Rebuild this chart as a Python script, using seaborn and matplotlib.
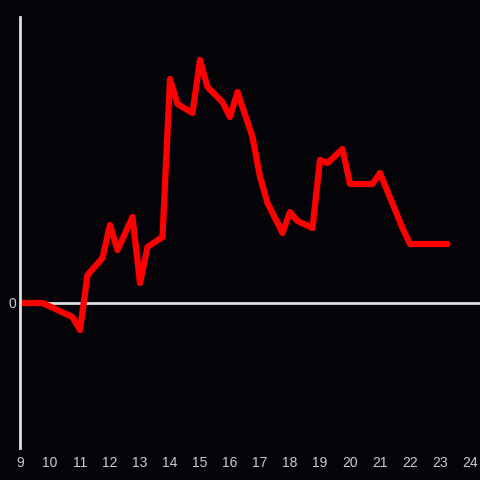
import matplotlib
matplotlib.use("Agg")
import matplotlib.pyplot as plt
import seaborn as sns
import pandas as pd

hours = [9, 9.75, 10.75, 11, 11.25, 11.75, 12, 12.25, 12.75, 13, 13.25, 13.75,
         14, 14.25, 14.75, 15, 15.25, 15.75, 16, 16.25, 16.75, 17, 17.25, 17.75,
         18, 18.25, 18.75, 19, 19.25, 19.75, 20, 20.75, 21, 21.75, 22, 23.25]
values = [0, 0, -14, -27, 28, 45, 78, 53, 86, 20, 56, 66,
          224, 199, 190, 243, 216, 201, 186, 211, 166, 126, 100, 70,
          91, 82, 75, 143, 140, 154, 119, 119, 130, 75, 59, 59]
xticks = list(range(9, 25))

df = pd.DataFrame({"hour": hours, "value": values})

sns.set_style("dark")
plt.rcParams["font.family"] = ["Liberation Sans", "DejaVu Sans"]

bg = "#040307"
fig = plt.figure(figsize=(4.8, 4.8), dpi=100, facecolor=bg)
ax = fig.add_axes([20 / 480, 32 / 480, 460 / 480, 431 / 480])
ax.set_facecolor(bg)

sns.lineplot(data=df, x="hour", y="value", ax=ax, color="#ff0000", linewidth=4.5)
ax.axhline(0, color="#e0e0e0", linewidth=2, zorder=1)

ax.set_xlim(9, 9 + 460 / 30)
ax.set_ylim(-145, 286)
ax.set_xticks(xticks)
ax.set_xticklabels([str(t) for t in xticks])
ax.set_yticks([0])
ax.set_yticklabels(["0"])
ax.tick_params(axis="both", length=0, colors="#cccccc", labelsize=10)
ax.tick_params(axis="x", pad=6)
ax.tick_params(axis="y", pad=3)
ax.grid(False)
ax.set_xlabel("")
ax.set_ylabel("")
for s in ["top", "right", "bottom"]:
    ax.spines[s].set_visible(False)
ax.spines["left"].set_color("#e0e0e0")
ax.spines["left"].set_linewidth(2)

fig.savefig("out.png", dpi=100, facecolor=bg)
